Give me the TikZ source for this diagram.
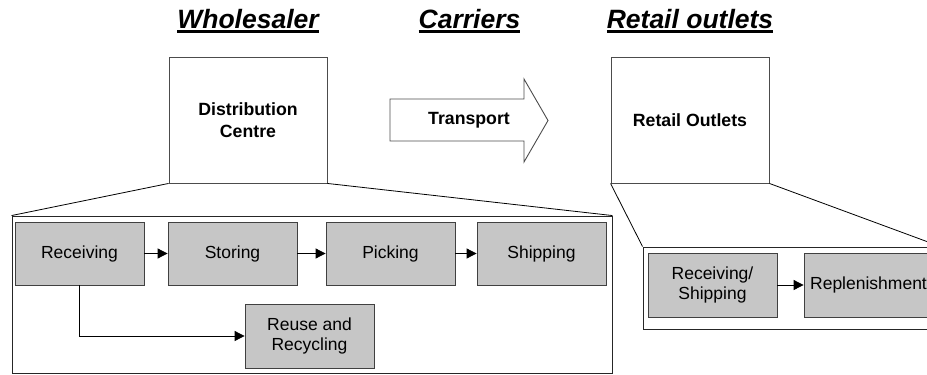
\documentclass[tikz,border=0pt]{standalone}
\usepackage{fontspec}
\setmainfont{Liberation Sans}
\usetikzlibrary{arrows.meta}
\newcommand\headul[1]{\setbox0\hbox{#1}\rlap{\vrule height -2pt depth 5pt width\wd0}\box0}

\begin{document}
\begin{tikzpicture}[x=1pt,y=-1pt,
  head/.style = {anchor=base, inner sep=0pt, font=\fontsize{26.5}{30}\selectfont\bfseries\itshape},
  place/.style = {draw=black!70, fill=white, line width=0.9pt, minimum width=158, minimum height=126, inner sep=0pt, align=center, font=\fontsize{17.7}{22}\selectfont\bfseries},
  frame/.style = {draw=black!85, fill=white, line width=0.9pt, inner sep=0pt},
  task/.style = {draw=black!75, fill=gray!45, line width=0.8pt, minimum width=129, minimum height=63, inner sep=0pt, align=center, font=\fontsize{17.5}{20.5}\selectfont},
  flow/.style = {-{Triangle[length=10pt,width=10pt]}, line width=0.8pt}]
\useasboundingbox (0,0) rectangle (927,375);
\clip (0,0) rectangle (927,375);

\node[head] (wholesaler) at (248,28) {\headul{Wholesaler}};
\node[head] (carriers) at (469.5,28) {\headul{Carriers}};
\node[head] (outlets) at (690,28) {\headul{Retail outlets}};

\node[place] (dc) at (248,120) {Distribution\\Centre};
\node[place] (ro) at (690,120) {Retail Outlets};

\draw[draw=black!70, line width=0.9pt] (390,99) -- (524,99) -- (524,79) -- (548,120.5) -- (524,162) -- (524,141) -- (390,141) -- cycle;
\node[font=\fontsize{17.7}{22}\selectfont\bfseries] (transport) at (469,120) {Transport};

\node[frame, minimum width=600, minimum height=157] (wframe) at (312,294.5) {};
\node[frame, minimum width=297, minimum height=82] (rframe) at (791.5,288) {};

\draw[line width=0.8pt] (dc.south west) -- (wframe.north west);
\draw[line width=0.8pt] (dc.south east) -- (wframe.north east);
\draw[line width=0.8pt] (ro.south west) -- (rframe.north west);
\draw[line width=0.8pt] (ro.south east) -- (rframe.north east);

\node[task] (rec) at (79.5,253.5) {Receiving};
\node[task] (sto) at (232.5,253.5) {Storing};
\node[task] (pic) at (390.5,253.5) {Picking};
\node[task] (shi) at (541.5,253.5) {Shipping};
\node[task, minimum height=64] (reu) at (309.5,336) {Reuse and\\Recycling};

\node[task, minimum height=64] (rs) at (712.5,285) {Receiving/\\Shipping};
\node[task, minimum height=64] (rep) at (868.5,285) {Replenishment};

\draw[flow] (rec) -- (sto);
\draw[flow] (sto) -- (pic);
\draw[flow] (pic) -- (shi);
\draw[flow] (rec.south) |- (reu.west);
\draw[flow] (rs) -- (rep);
\end{tikzpicture}
\end{document}
